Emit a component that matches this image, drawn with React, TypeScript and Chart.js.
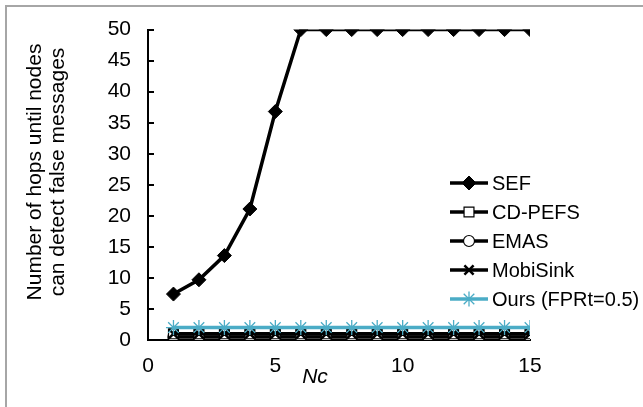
import React, { useEffect, useRef } from "react";
import { Chart, registerables } from "chart.js";

Chart.register(...registerables);

const xValues = [1, 2, 3, 4, 5, 6, 7, 8, 9, 10, 11, 12, 13, 14, 15];
const sef = [7.4, 9.7, 13.6, 21.1, 36.8, 50, 50, 50, 50, 50, 50, 50, 50, 50, 50];
const cdPefs = [1, 1, 1, 1, 1, 1, 1, 1, 1, 1, 1, 1, 1, 1, 1];
const emas = [0.5, 0.5, 0.5, 0.5, 0.5, 0.5, 0.5, 0.5, 0.5, 0.5, 0.5, 0.5, 0.5, 0.5, 0.5];
const mobiSink = [1, 1, 1, 1, 1, 1, 1, 1, 1, 1, 1, 1, 1, 1, 1];
const ours = [2, 2, 2, 2, 2, 2, 2, 2, 2, 2, 2, 2, 2, 2, 2];
const seriesNames = ["SEF", "CD-PEFS", "EMAS", "MobiSink", "Ours (FPRt=0.5)"];
const yTitleLines = ["Number of hops until nodes", "can detect false messages"];
const xTitle = "Nc";

const FONT = "'Liberation Sans', Arial, sans-serif";
const CYAN = "#4BACC6";

const toPoints = (ys: number[]) => ys.map((y, i) => ({ x: xValues[i], y }));

function drawMarker(ctx: CanvasRenderingContext2D, style: string, x: number, y: number, r: number, fill: string, stroke: string, lw: number) {
  ctx.save();
  ctx.beginPath();
  ctx.fillStyle = fill;
  ctx.strokeStyle = stroke;
  ctx.lineWidth = lw;
  if (style === "rectRot") {
    ctx.moveTo(x - r, y); ctx.lineTo(x, y - r); ctx.lineTo(x + r, y); ctx.lineTo(x, y + r); ctx.closePath();
    ctx.fill(); ctx.stroke();
  } else if (style === "rect") {
    const s = r * Math.SQRT1_2;
    ctx.rect(x - s, y - s, 2 * s, 2 * s);
    ctx.fill(); ctx.stroke();
  } else if (style === "circle") {
    ctx.arc(x, y, r, 0, Math.PI * 2);
    ctx.fill(); ctx.stroke();
  } else if (style === "crossRot") {
    const d = r * Math.SQRT1_2;
    ctx.moveTo(x - d, y - d); ctx.lineTo(x + d, y + d);
    ctx.moveTo(x + d, y - d); ctx.lineTo(x - d, y + d);
    ctx.stroke();
  } else if (style === "star") {
    const d = r * Math.SQRT1_2;
    ctx.moveTo(x - r, y); ctx.lineTo(x + r, y);
    ctx.moveTo(x, y - r); ctx.lineTo(x, y + r);
    ctx.moveTo(x - d, y - d); ctx.lineTo(x + d, y + d);
    ctx.moveTo(x + d, y - d); ctx.lineTo(x - d, y + d);
    ctx.stroke();
  }
  ctx.restore();
}

const decorPlugin = {
  id: "decor",
  beforeDatasetsDraw(chart: any) {
    const ctx = chart.ctx as CanvasRenderingContext2D;
    const ys = chart.scales.y;
    const xs = chart.scales.x;
    ctx.save();
    ctx.strokeStyle = "#000";
    ctx.lineWidth = 2;
    ys.ticks.forEach((t: any) => {
      const py = Math.round(ys.getPixelForValue(t.value));
      ctx.beginPath();
      ctx.moveTo(xs.left, py);
      ctx.lineTo(xs.left + 6, py);
      ctx.stroke();
    });
    ctx.restore();
  },
  afterDraw(chart: any) {
    const ctx = chart.ctx as CanvasRenderingContext2D;
    ctx.save();
    // frame
    ctx.fillStyle = "#a6a6a6";
    ctx.fillRect(5, 5, 643, 2);
    ctx.fillRect(5, 5, 2, 407);
    // y title
    ctx.fillStyle = "#000";
    ctx.font = `21px ${FONT}`;
    ctx.textAlign = "center";
    ctx.textBaseline = "middle";
    const xsTitle = [35, 58];
    yTitleLines.forEach((line, i) => {
      ctx.save();
      ctx.translate(xsTitle[i], 172);
      ctx.rotate(-Math.PI / 2);
      ctx.fillText(line, 0, 0);
      ctx.restore();
    });
    // x title
    ctx.font = `italic 21px ${FONT}`;
    ctx.fillText(xTitle, 315, 377);
    // legend
    ctx.font = `20px ${FONT}`;
    ctx.textAlign = "left";
    chart.data.datasets.forEach((ds: any, i: number) => {
      const ry = 183 + i * 29;
      ctx.strokeStyle = ds.borderColor;
      ctx.lineWidth = ds.borderWidth;
      ctx.beginPath();
      ctx.moveTo(450, ry);
      ctx.lineTo(488, ry);
      ctx.stroke();
      drawMarker(ctx, ds.pointStyle, 469, ry, ds.pointRadius, ds.pointBackgroundColor, ds.pointBorderColor, ds.pointBorderWidth);
      ctx.fillStyle = "#000";
      ctx.fillText(ds.label, 492, ry + 1);
    });
    ctx.restore();
  },
};

export default function App() {
  const ref = useRef<HTMLCanvasElement>(null);
  useEffect(() => {
    if (!ref.current) return;
    const chart = new Chart(ref.current, {
      type: "line",
      data: {
        datasets: [
          { label: seriesNames[0], data: toPoints(sef), borderColor: "#000", borderWidth: 3.5, pointStyle: "rectRot", pointRadius: 7, pointBackgroundColor: "#000", pointBorderColor: "#000", pointBorderWidth: 1, order: 1 },
          { label: seriesNames[1], data: toPoints(cdPefs), borderColor: "#000", borderWidth: 3.5, pointStyle: "rect", pointRadius: 7, pointBackgroundColor: "#fff", pointBorderColor: "#000", pointBorderWidth: 1.2, order: 3 },
          { label: seriesNames[2], data: toPoints(emas), borderColor: "#000", borderWidth: 3.5, pointStyle: "circle", pointRadius: 5.5, pointBackgroundColor: "#fff", pointBorderColor: "#000", pointBorderWidth: 1.2, order: 4 },
          { label: seriesNames[3], data: toPoints(mobiSink), borderColor: "#000", borderWidth: 3.5, pointStyle: "crossRot", pointRadius: 6.5, pointBackgroundColor: "#000", pointBorderColor: "#000", pointBorderWidth: 2.5, order: 2 },
          { label: seriesNames[4], data: toPoints(ours), borderColor: CYAN, borderWidth: 3.5, pointStyle: "star", pointRadius: 7.5, pointBackgroundColor: CYAN, pointBorderColor: CYAN, pointBorderWidth: 1.3, order: 0 },
        ] as any,
      },
      options: {
        animation: false,
        responsive: false,
        devicePixelRatio: 1,
        layout: { padding: { top: 28, right: 113, bottom: 0, left: 0 } },
        plugins: { legend: { display: false }, tooltip: { enabled: false } },
        elements: { line: { tension: 0 } },
        scales: {
          x: {
            type: "linear",
            min: 0,
            max: 15,
            grid: { display: false, drawTicks: false },
            border: { display: true, color: "#000", width: 2 },
            ticks: { stepSize: 5, padding: 14, color: "#000", font: { family: FONT, size: 21 } },
            afterFit: (s: any) => { s.height = 67; },
          },
          y: {
            type: "linear",
            min: 0,
            max: 50,
            grid: { display: false, drawTicks: false },
            border: { display: true, color: "#000", width: 2 },
            ticks: { stepSize: 5, padding: 17, color: "#000", font: { family: FONT, size: 21 } },
            afterFit: (s: any) => { s.width = 148; },
          },
        },
      },
      plugins: [decorPlugin],
    });
    return () => chart.destroy();
  }, []);
  return (
    <div style={{ position: "fixed", left: 0, top: 0, width: 643, height: 407, background: "#fff" }}>
      <canvas ref={ref} width={643} height={407} style={{ display: "block" }} />
    </div>
  );
}
